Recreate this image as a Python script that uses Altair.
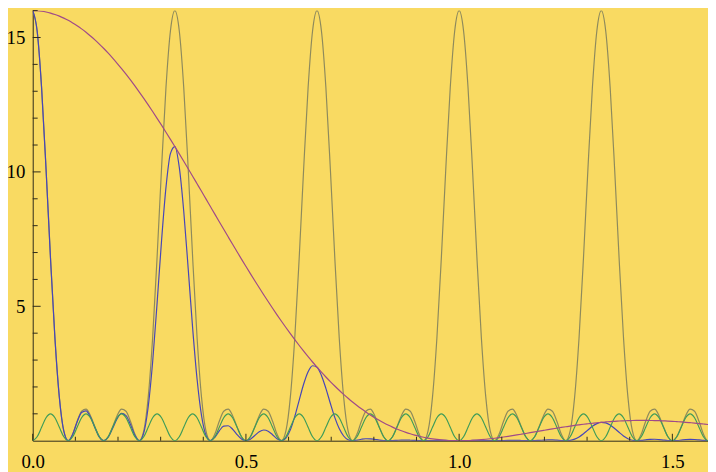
import altair as alt
import pandas as pd

# sample positions (x = k/96, k = 0..153)
x_vals = [round(k / 96, 6) for k in range(154)]

# grating pattern (gray / olive curve)
gray = [
    16, 15.243, 13.137, 10.13, 6.828, 3.841, 1.62, 0.364, 0, 0.245, 0.723, 1.097, 1.172, 0.932, 0.52, 0.148,
    0, 0.148, 0.52, 0.932, 1.172, 1.097, 0.723, 0.245, 0, 0.364, 1.62, 3.841, 6.828, 10.13, 13.137, 15.243,
    16, 15.243, 13.137, 10.13, 6.828, 3.841, 1.62, 0.364, 0, 0.245, 0.723, 1.097, 1.172, 0.932, 0.52, 0.148,
    0, 0.148, 0.52, 0.932, 1.172, 1.097, 0.723, 0.245, 0, 0.364, 1.62, 3.841, 6.828, 10.13, 13.137, 15.243,
    16, 15.243, 13.137, 10.13, 6.828, 3.841, 1.62, 0.364, 0, 0.245, 0.723, 1.097, 1.172, 0.932, 0.52, 0.148,
    0, 0.148, 0.52, 0.932, 1.172, 1.097, 0.723, 0.245, 0, 0.364, 1.62, 3.841, 6.828, 10.13, 13.137, 15.243,
    16, 15.243, 13.137, 10.13, 6.828, 3.841, 1.62, 0.364, 0, 0.245, 0.723, 1.097, 1.172, 0.932, 0.52, 0.148,
    0, 0.148, 0.52, 0.932, 1.172, 1.097, 0.723, 0.245, 0, 0.364, 1.62, 3.841, 6.828, 10.13, 13.137, 15.243,
    16, 15.243, 13.137, 10.13, 6.828, 3.841, 1.62, 0.364, 0, 0.245, 0.723, 1.097, 1.172, 0.932, 0.52, 0.148,
    0, 0.148, 0.52, 0.932, 1.172, 1.097, 0.723, 0.245, 0, 0.364,
]

# envelope (purple curve)
purple = [
    16, 15.995, 15.977, 15.949, 15.909, 15.858, 15.796, 15.722, 15.638, 15.543, 15.437, 15.321, 15.194, 15.058, 14.911, 14.755,
    14.59, 14.416, 14.233, 14.041, 13.842, 13.635, 13.42, 13.198, 12.969, 12.734, 12.493, 12.246, 11.994, 11.738, 11.477, 11.212,
    10.943, 10.671, 10.396, 10.119, 9.84, 9.559, 9.278, 8.995, 8.712, 8.429, 8.147, 7.866, 7.586, 7.307, 7.031, 6.756,
    6.485, 6.216, 5.951, 5.689, 5.431, 5.178, 4.929, 4.684, 4.445, 4.211, 3.982, 3.759, 3.542, 3.331, 3.126, 2.928,
    2.736, 2.55, 2.371, 2.199, 2.034, 1.875, 1.724, 1.579, 1.441, 1.31, 1.186, 1.069, 0.959, 0.855, 0.758, 0.668,
    0.584, 0.506, 0.435, 0.369, 0.31, 0.257, 0.209, 0.166, 0.129, 0.0973, 0.0702, 0.0479, 0.0301, 0.0166, 0.0072, 0.0018,
    0, 0.0017, 0.0067, 0.0146, 0.0255, 0.0389, 0.0547, 0.0726, 0.0925, 0.1142, 0.1374, 0.1619, 0.1876, 0.2142, 0.2415, 0.2695,
    0.2978, 0.3263, 0.3548, 0.3833, 0.4115, 0.4392, 0.4665, 0.493, 0.5188, 0.5436, 0.5674, 0.5901, 0.6116, 0.6318, 0.6506, 0.668,
    0.6839, 0.6983, 0.7111, 0.7223, 0.7319, 0.7398, 0.7461, 0.7507, 0.7537, 0.755, 0.7547, 0.7528, 0.7493, 0.7443, 0.7378, 0.7298,
    0.7205, 0.7098, 0.6979, 0.6848, 0.6705, 0.6551, 0.6388, 0.6215, 0.6033, 0.5845,
]

# product (blue curve)
blue = [
    16, 15.238, 13.118, 10.097, 6.789, 3.807, 1.599, 0.358, 0, 0.238, 0.698, 1.051, 1.113, 0.877, 0.484, 0.136,
    0, 0.133, 0.462, 0.818, 1.014, 0.935, 0.607, 0.202, 0, 0.29, 1.265, 2.94, 5.119, 7.432, 9.423, 10.681,
    10.943, 10.166, 8.536, 6.407, 4.199, 2.295, 0.939, 0.205, 0, 0.129, 0.368, 0.54, 0.556, 0.426, 0.228, 0.063,
    0, 0.058, 0.193, 0.331, 0.398, 0.355, 0.223, 0.072, 0, 0.096, 0.403, 0.903, 1.512, 2.109, 2.567, 2.789,
    2.736, 2.429, 1.947, 1.392, 0.868, 0.45, 0.175, 0.036, 0, 0.02, 0.054, 0.073, 0.07, 0.05, 0.025, 0.006,
    0, 0.005, 0.014, 0.022, 0.023, 0.018, 0.009, 0.003, 0, 0.002, 0.007, 0.012, 0.013, 0.011, 0.006, 0.002,
    0, 0.002, 0.006, 0.009, 0.011, 0.009, 0.006, 0.002, 0, 0.002, 0.006, 0.011, 0.014, 0.013, 0.008, 0.003,
    0, 0.003, 0.012, 0.022, 0.03, 0.03, 0.021, 0.008, 0, 0.012, 0.057, 0.142, 0.261, 0.4, 0.534, 0.636,
    0.684, 0.665, 0.584, 0.457, 0.312, 0.178, 0.076, 0.017, 0, 0.012, 0.034, 0.052, 0.055, 0.043, 0.024, 0.007,
    0, 0.007, 0.023, 0.04, 0.049, 0.045, 0.029, 0.01, 0, 0.013,
]

# numerator (green curve)
green = [
    0, 0.146, 0.5, 0.854, 1, 0.854, 0.5, 0.146, 0, 0.146, 0.5, 0.854, 1, 0.854, 0.5, 0.146,
    0, 0.146, 0.5, 0.854, 1, 0.854, 0.5, 0.146, 0, 0.146, 0.5, 0.854, 1, 0.854, 0.5, 0.146,
    0, 0.146, 0.5, 0.854, 1, 0.854, 0.5, 0.146, 0, 0.146, 0.5, 0.854, 1, 0.854, 0.5, 0.146,
    0, 0.146, 0.5, 0.854, 1, 0.854, 0.5, 0.146, 0, 0.146, 0.5, 0.854, 1, 0.854, 0.5, 0.146,
    0, 0.146, 0.5, 0.854, 1, 0.854, 0.5, 0.146, 0, 0.146, 0.5, 0.854, 1, 0.854, 0.5, 0.146,
    0, 0.146, 0.5, 0.854, 1, 0.854, 0.5, 0.146, 0, 0.146, 0.5, 0.854, 1, 0.854, 0.5, 0.146,
    0, 0.146, 0.5, 0.854, 1, 0.854, 0.5, 0.146, 0, 0.146, 0.5, 0.854, 1, 0.854, 0.5, 0.146,
    0, 0.146, 0.5, 0.854, 1, 0.854, 0.5, 0.146, 0, 0.146, 0.5, 0.854, 1, 0.854, 0.5, 0.146,
    0, 0.146, 0.5, 0.854, 1, 0.854, 0.5, 0.146, 0, 0.146, 0.5, 0.854, 1, 0.854, 0.5, 0.146,
    0, 0.146, 0.5, 0.854, 1, 0.854, 0.5, 0.146, 0, 0.146,
]

x_major = [0, 0.5, 1.0, 1.5]
x_minor = [0.1, 0.2, 0.3, 0.4, 0.6, 0.7, 0.8, 0.9, 1.1, 1.2, 1.3, 1.4]
y_major = [5, 10, 15]
y_minor = [1, 2, 3, 4, 6, 7, 8, 9, 11, 12, 13, 14, 16]

W, H = 683, 435
XMAX = 1.5836
AXIS_COLOR = "#2e2a1a"

df = pd.DataFrame({"x": x_vals, "gray": gray, "purple": purple, "blue": blue, "green": green})

xs = alt.Scale(domain=[0, XMAX], nice=False, zero=False)
ys = alt.Scale(domain=[0, 16], nice=False)

xaxis = alt.Axis(values=x_major, format=".1f", ticks=False, grid=False, domain=True,
                 domainColor=AXIS_COLOR, domainWidth=1, labelFont="Liberation Serif", labelFontSize=19,
                 labelColor="#000000", labelPadding=27, labelBaseline="alphabetic", labelFlush=False,
                 labelOverlap=False, title=None)
yaxis = alt.Axis(values=y_major, ticks=False, grid=False, domain=True,
                 domainColor=AXIS_COLOR, domainWidth=1, labelFont="Liberation Serif", labelFontSize=19,
                 labelColor="#000000", labelPadding=8, labelFlush=False, labelOverlap=False, title=None)

base = alt.Chart(df)


def curve(field, color):
    return base.mark_line(color=color, strokeWidth=1.2, interpolate="monotone", clip=True).encode(
        x=alt.X("x:Q", scale=xs, axis=xaxis),
        y=alt.Y(f"{field}:Q", scale=ys, axis=yaxis),
    )


gray_line = curve("gray", "#8e8a5c")
blue_line = curve("blue", "#4646b8")
green_line = curve("green", "#3f9c58")
purple_line = curve("purple", "#a04a88")

xt_major = alt.Chart(pd.DataFrame({"t": x_major})).mark_rule(color=AXIS_COLOR, strokeWidth=1).encode(
    x=alt.X("t:Q", scale=xs, axis=xaxis), y=alt.value(H), y2=alt.value(H - 7))
xt_minor = alt.Chart(pd.DataFrame({"t": x_minor})).mark_rule(color=AXIS_COLOR, strokeWidth=1).encode(
    x=alt.X("t:Q", scale=xs, axis=xaxis), y=alt.value(H), y2=alt.value(H - 4))
yt_major = alt.Chart(pd.DataFrame({"t": y_major})).mark_rule(color=AXIS_COLOR, strokeWidth=1).encode(
    y=alt.Y("t:Q", scale=ys, axis=yaxis), x=alt.value(0), x2=alt.value(8))
yt_minor = alt.Chart(pd.DataFrame({"t": y_minor})).mark_rule(color=AXIS_COLOR, strokeWidth=1).encode(
    y=alt.Y("t:Q", scale=ys, axis=yaxis), x=alt.value(0), x2=alt.value(5))

chart = alt.layer(
    gray_line, blue_line, green_line, purple_line, xt_major, xt_minor, yt_major, yt_minor
).properties(
    width=W, height=H,
    autosize=alt.AutoSizeParams(type="none"),
    padding={"left": 25, "top": 0, "right": 0, "bottom": 29},
    background="#f9da62",
).configure_view(strokeWidth=0)

chart.save("out.html", embed_options={"renderer": "svg", "actions": False})
